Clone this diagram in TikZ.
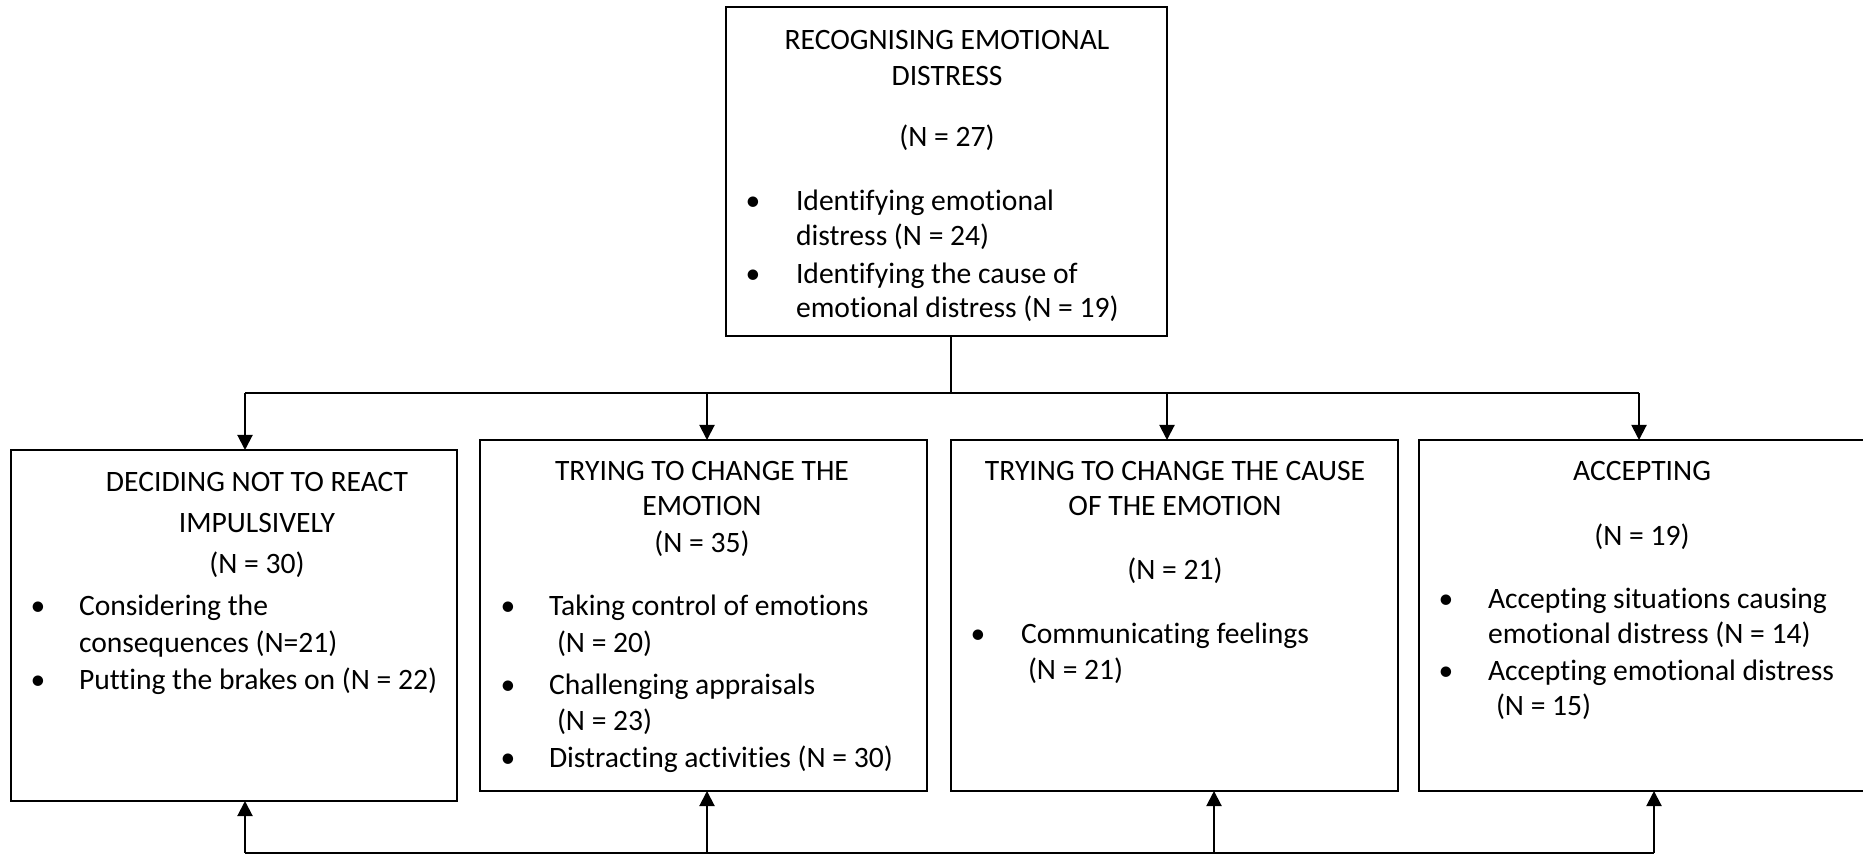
\documentclass[tikz,border=0pt]{standalone}
\usepackage{fontspec}
\setmainfont[Ligatures=NoCommon]{Carlito}
\usetikzlibrary{arrows.meta}
\begin{document}
\begin{tikzpicture}[x=0.5pt,y=-0.5pt,
  box/.style={draw=black,line width=1pt,inner sep=0pt,outer sep=0pt},
  txt/.style={inner sep=0pt,outer sep=0pt,anchor=base,yshift=-1.2pt,font=\fontsize{14.8}{17}\selectfont},
  lt/.style={txt,anchor=base west},
  conn/.style={line width=1pt},
  arr/.style={line width=1pt,-{Triangle[width=7.5pt,length=7.5pt]}}]
\clip (0,0) rectangle (1863,854);
% boxes
\node[box,minimum width=220.5pt,minimum height=164.5pt] (B0) at (946.5,171.5) {};
\node[box,minimum width=223pt,minimum height=175.5pt] (B1) at (234,625.5) {};
\node[box,minimum width=223.5pt,minimum height=175.5pt] (B2) at (703.5,615.5) {};
\node[box,minimum width=223.5pt,minimum height=175.5pt] (B3) at (1174.5,615.5) {};
\node[box,minimum width=223.5pt,minimum height=175.5pt] (B4) at (1642.5,615.5) {};
% top box text
\node[txt] (t0a) at (947,47) {RECOGNISING EMOTIONAL};
\node[txt] (t0b) at (947,83) {DISTRESS};
\node[txt] (t0c) at (947,144) {(N = 27)};
\node[txt] (b0a) at (753,208) {•};
\node[txt] (b0b) at (753,281) {•};
\node[lt] (t0d) at (796,208) {Identifying emotional};
\node[lt] (t0e) at (796,243) {distress (N = 24)};
\node[lt] (t0f) at (796,281) {Identifying the cause of};
\node[lt] (t0g) at (796,315) {emotional distress (N = 19)};
% box 1
\node[txt] (t1a) at (257,489) {DECIDING NOT TO REACT};
\node[txt] (t1b) at (257,530) {IMPULSIVELY};
\node[txt] (t1c) at (257,571) {(N = 30)};
\node[txt] (b1a) at (38,613) {•};
\node[txt] (b1b) at (38,687) {•};
\node[lt] (t1d) at (79,613) {Considering the};
\node[lt] (t1e) at (79,650) {consequences (N=21)};
\node[lt] (t1f) at (79,687) {Putting the brakes on (N = 22)};
% box 2
\node[txt] (t2a) at (702,478) {TRYING TO CHANGE THE};
\node[txt] (t2b) at (702,513) {EMOTION};
\node[txt] (t2c) at (702,550) {(N = 35)};
\node[txt] (b2a) at (508,613) {•};
\node[txt] (b2b) at (508,692) {•};
\node[txt] (b2c) at (508,765) {•};
\node[lt] (t2d) at (549,613) {Taking control of emotions};
\node[lt] (t2e) at (557,650) {(N = 20)};
\node[lt] (t2f) at (549,692) {Challenging appraisals};
\node[lt] (t2g) at (557,728) {(N = 23)};
\node[lt] (t2h) at (549,765) {Distracting activities (N = 30)};
% box 3
\node[txt] (t3a) at (1175,478) {TRYING TO CHANGE THE CAUSE};
\node[txt] (t3b) at (1175,513) {OF THE EMOTION};
\node[txt] (t3c) at (1175,577) {(N = 21)};
\node[txt] (b3a) at (978,641) {•};
\node[lt] (t3d) at (1021,641) {Communicating feelings};
\node[lt] (t3e) at (1028,677) {(N = 21)};
% box 4
\node[txt] (t4a) at (1642,478) {ACCEPTING};
\node[txt] (t4b) at (1642,543) {(N = 19)};
\node[txt] (b4a) at (1446,606) {•};
\node[txt] (b4b) at (1446,678) {•};
\node[lt] (t4c) at (1488,606) {Accepting situations causing};
\node[lt] (t4d) at (1488,641) {emotional distress (N = 14)};
\node[lt] (t4e) at (1488,678) {Accepting emotional distress};
\node[lt] (t4f) at (1496,713) {(N = 15)};
% top connectors
\coordinate (hub) at (951,393.5);
\coordinate (ta1) at (245,393.5);
\coordinate (ta2) at (707,393.5);
\coordinate (ta3) at (1167,393.5);
\coordinate (ta4) at (1639,393.5);
\draw[conn] (B0.south -| hub) -- (hub);
\draw[conn] (ta1) -- (ta4);
\draw[arr] (ta1) -- (ta1 |- B1.north);
\draw[arr] (ta2) -- (ta2 |- B2.north);
\draw[arr] (ta3) -- (ta3 |- B3.north);
\draw[arr] (ta4) -- (ta4 |- B4.north);
% bottom connectors
\coordinate (ba1) at (245,852.5);
\coordinate (ba2) at (707,852.5);
\coordinate (ba3) at (1214,852.5);
\coordinate (ba4) at (1654,852.5);
\draw[conn] (ba1) -- (ba4);
\draw[arr] (ba1) -- (ba1 |- B1.south);
\draw[arr] (ba2) -- (ba2 |- B2.south);
\draw[arr] (ba3) -- (ba3 |- B3.south);
\draw[arr] (ba4) -- (ba4 |- B4.south);
\end{tikzpicture}
\end{document}
